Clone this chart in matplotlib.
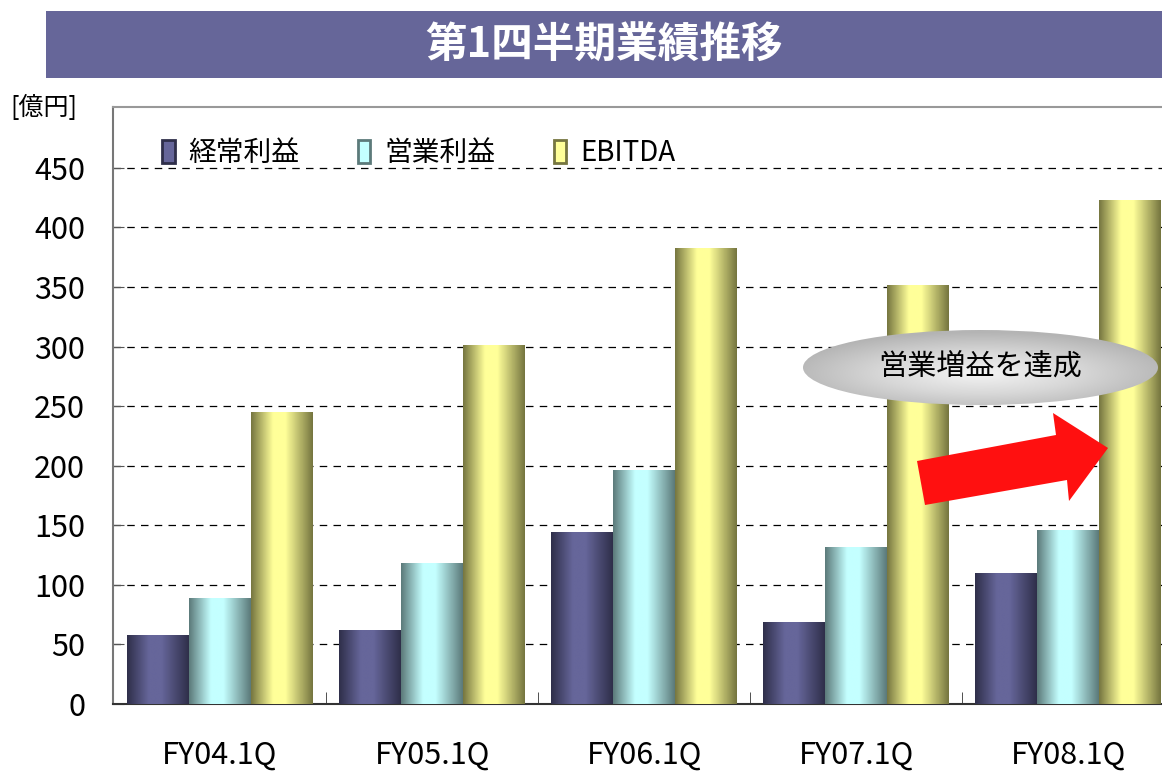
import numpy as np
import matplotlib.pyplot as plt
from matplotlib.patches import Rectangle, Patch, Ellipse, Polygon
from matplotlib.colors import LinearSegmentedColormap

plt.rcParams['font.family'] = ['Noto Sans CJK JP', 'DejaVu Sans']

categories = ["FY04.1Q", "FY05.1Q", "FY06.1Q", "FY07.1Q", "FY08.1Q"]
keijo = [58, 62, 144, 69, 110]      # 経常利益
eigyo = [89, 118, 196, 132, 146]    # 営業利益
ebitda = [245, 301, 383, 352, 423]  # EBITDA
series_names = ["経常利益", "営業利益", "EBITDA"]

W, H = 1162, 771
fig = plt.figure(figsize=(W / 100, H / 100), dpi=100)

# title banner
fig.patches.append(Rectangle((46 / W, 1 - 78 / H), (W - 46) / W, 67 / H,
                             transform=fig.transFigure, facecolor="#666699",
                             edgecolor="none"))
fig.text(0.5 * (46 + W) / W, 1 - 46 / H, "第1四半期業績推移", color="white",
         fontsize=30, fontweight="bold", ha="center", va="center")

ax = fig.add_axes([113 / W, 1 - 704 / H, (W - 113) / W, (704 - 107) / H])

x = np.arange(len(categories))
bw = 0.292
cols = [("#2f2f4a", "#66669a"), ("#5c7a7a", "#c4ffff"), ("#767640", "#ffff99")]
data = [keijo, eigyo, ebitda]

for k, vals in enumerate(data):
    dark, light = cols[k]
    cmap = LinearSegmentedColormap.from_list("g%d" % k, [dark, light, light, dark])
    bars = ax.bar(x + (k - 1) * bw, vals, bw, facecolor="none", edgecolor="none", zorder=3)
    grad = np.linspace(0, 1, 200)
    grad = np.interp(grad, [0, 0.35, 0.55, 1], [0, 0.33, 0.66, 1]).reshape(1, -1)
    for b in bars:
        bx, by = b.get_x(), b.get_y()
        im = ax.imshow(grad, extent=[bx, bx + b.get_width(), by, by + b.get_height()],
                       aspect="auto", cmap=cmap, zorder=3, interpolation="bilinear")
        im.set_clip_path(b)

ax.set_xlim(-0.505, 4.443)
ax.set_ylim(0, 501)
ax.set_yticks(np.arange(0, 451, 50))
ax.set_xticks(x)
ax.set_xticklabels(categories, fontsize=22)
ax.set_xticks(x[:-1] + 0.5, minor=True)
ax.tick_params(axis="x", which="major", length=0, pad=26)
ax.tick_params(axis="x", which="minor", direction="in", length=9, color="#333333")
ax.tick_params(axis="y", direction="in", length=8, labelsize=22, pad=20, color="#555555")
ax.grid(axis="y", color="black", linestyle=(0, (6, 5)), linewidth=0.9, zorder=1)

ax.spines["right"].set_visible(False)
ax.spines["top"].set_color("#999999")
ax.spines["top"].set_linewidth(1.5)
ax.spines["left"].set_color("#777777")
ax.spines["left"].set_linewidth(1.5)
ax.spines["bottom"].set_color("#333333")
ax.spines["bottom"].set_linewidth(1.5)

handles = [Patch(facecolor=c[1], edgecolor=c[0], linewidth=2) for c in cols]
ax.legend(handles, series_names, ncol=3, loc="upper left", bbox_to_anchor=(0.023, 0.99),
          frameon=False, fontsize=20, handlelength=0.45, handleheight=0.9,
          handletextpad=0.5, columnspacing=2.1)

fig.text(10 / W, 1 - 108 / H, "[億円]", fontsize=18, va="center", ha="left")

# callout ellipse with radial shading
eax = fig.add_axes([803 / W, 1 - 405 / H, 355 / W, 75 / H])
eax.set_xlim(-1, 1)
eax.set_ylim(-1, 1)
eax.axis("off")
yy, xx = np.mgrid[-1:1:200j, -1:1:400j]
r = np.sqrt(xx ** 2 + (yy + 0.15) ** 2)
gray = LinearSegmentedColormap.from_list("gr", ["#f4f4f4", "#d8d8d8", "#b4b4b4"])
ell = Ellipse((0, 0), 2, 2, transform=eax.transData, facecolor="none", edgecolor="none")
eax.add_patch(ell)
gim = eax.imshow(r, extent=[-1, 1, -1, 1], cmap=gray, vmin=0, vmax=1.1, aspect="auto",
                 origin="lower")
gim.set_clip_path(ell)
eax.text(0, 0.02, "営業増益を達成", fontsize=21, ha="center", va="center")

# red arrow
pts = [(917, 461), (1056, 435), (1053, 413), (1108, 448), (1069, 501), (1067, 480), (925, 505)]
fig.patches.append(Polygon([(px / W, 1 - py / H) for px, py in pts], closed=True,
                           transform=fig.transFigure, facecolor="#ff1010",
                           edgecolor="none", zorder=10))

fig.savefig("out.png", dpi=100)
